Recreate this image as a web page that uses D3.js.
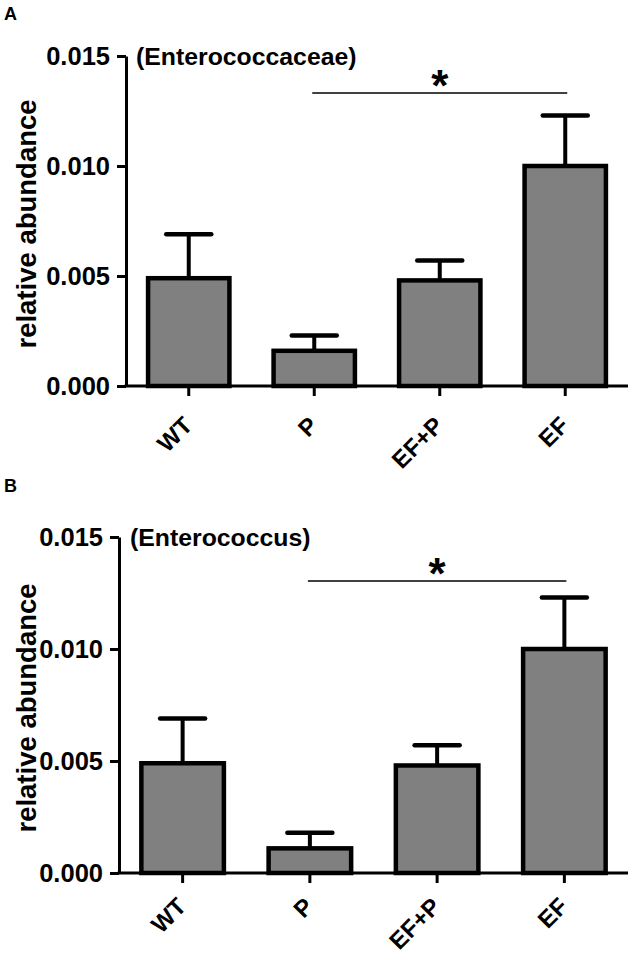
<!DOCTYPE html>
<html><head><meta charset="utf-8">
<script src="https://cdn.jsdelivr.net/npm/d3@7"></script>
<style>
html,body{margin:0;padding:0;background:#fff;}
svg{display:block;font-family:"Liberation Sans",Arial,sans-serif;font-weight:bold;}
</style></head>
<body>
<svg id="chart" width="633" height="957"></svg>
<script>
const categories = ["WT", "P", "EF+P", "EF"];
const yTicks = [0, 0.005, 0.010, 0.015];
const meanA = [0.0049, 0.0016, 0.0048, 0.0100];
const semA  = [0.0020, 0.0007, 0.0009, 0.0023];
const meanB = [0.0049, 0.0011, 0.0048, 0.0100];
const semB  = [0.0020, 0.0007, 0.0009, 0.0023];
const titleA = "(Enterococcaceae)";
const titleB = "(Enterococcus)";
const yLabel = "relative abundance";
const sigPair = ["P", "EF"];

const svg = d3.select("#chart");

function panel(opt){
  const g = svg.append("g");
  const x = d3.scaleBand().domain(categories).range([opt.left, opt.right]).paddingInner(0.32).paddingOuter(0.16);
  const y = d3.scaleLinear().domain([0, 0.015]).range([opt.bottom, opt.top]);

  g.append("text").attr("x", opt.letterX).attr("y", opt.letterY).attr("font-size", 18).text(opt.letter);

  const data = categories.map((c,i)=>({c, m: opt.mean[i], e: opt.sem[i]}));
  const capW = 45;
  g.selectAll(".err").data(data).enter().append("line")
    .attr("x1", d=>x(d.c)+x.bandwidth()/2).attr("x2", d=>x(d.c)+x.bandwidth()/2)
    .attr("y1", d=>y(d.m)).attr("y2", d=>y(d.m+d.e))
    .attr("stroke", "#000").attr("stroke-width", 4);
  g.selectAll(".cap").data(data).enter().append("line")
    .attr("x1", d=>x(d.c)+x.bandwidth()/2-capW/2).attr("x2", d=>x(d.c)+x.bandwidth()/2+capW/2)
    .attr("y1", d=>y(d.m+d.e)).attr("y2", d=>y(d.m+d.e))
    .attr("stroke", "#000").attr("stroke-width", 4.5).attr("stroke-linecap","round");
  g.selectAll(".bar").data(data).enter().append("rect")
    .attr("x", d=>x(d.c)+2).attr("width", x.bandwidth()-4)
    .attr("y", d=>y(d.m)).attr("height", d=>y(0)-y(d.m))
    .attr("fill", "#808080").attr("stroke", "#000").attr("stroke-width", 4.5);

  const ya = g.append("g").attr("transform", `translate(${opt.left},0)`)
    .call(d3.axisLeft(y).tickValues(yTicks).tickFormat(d3.format(".3f")).tickSize(9).tickSizeOuter(0).tickPadding(7));
  ya.select(".domain").attr("stroke-width", 3);
  ya.selectAll(".tick line").attr("stroke-width", 3);
  ya.selectAll(".tick text").attr("font-size", 25.5).attr("fill","#000").attr("font-family","Liberation Sans, Arial, sans-serif").attr("font-weight","bold");

  const xa = g.append("g").attr("transform", `translate(0,${opt.bottom})`)
    .call(d3.axisBottom(x).tickSize(10).tickSizeOuter(0).tickFormat(""));
  xa.select(".domain").attr("stroke-width", 3).attr("d", `M${opt.left-1.5},0H${opt.right}`);
  xa.selectAll(".tick line").attr("stroke-width", 3);
  g.selectAll(".xl").data(categories).enter().append("text")
    .attr("transform", d=>`translate(${x(d)+x.bandwidth()/2+5},${opt.bottom+opt.xlabDy}) rotate(-45)`)
    .attr("text-anchor","end").attr("font-size", 24).text(d=>d);

  g.append("text").attr("transform", `translate(${opt.ylabX},${(opt.top+opt.bottom)/2+3}) rotate(-90)`)
    .attr("text-anchor","middle").attr("font-size", 27.5).text(yLabel);

  g.append("text").attr("x", opt.titleX).attr("y", opt.top).attr("dy","0.35em").attr("font-size", 24.8).text(opt.title);

  const x1 = x(sigPair[0])+x.bandwidth()/2, x2 = x(sigPair[1])+x.bandwidth()/2;
  g.append("line").attr("x1", x1-2).attr("x2", x2+2).attr("y1", opt.sigY).attr("y2", opt.sigY)
    .attr("stroke","#000").attr("stroke-width",1.7);
  g.append("text").attr("x",(x1+x2)/2).attr("y",opt.sigY+8).attr("text-anchor","middle").attr("font-size",44).text("*");
}

panel({letter:"A", letterX:4, letterY:20, left:126, right:628, top:56, bottom:386, mean:meanA, sem:semA, title:titleA, titleX:136, ylabX:36, sigY:93, xlabDy:41});
panel({letter:"B", letterX:4, letterY:492, left:119, right:628, top:537, bottom:873, mean:meanB, sem:semB, title:titleB, titleX:130, ylabX:36, sigY:581, xlabDy:35});
</script>
</body></html>
